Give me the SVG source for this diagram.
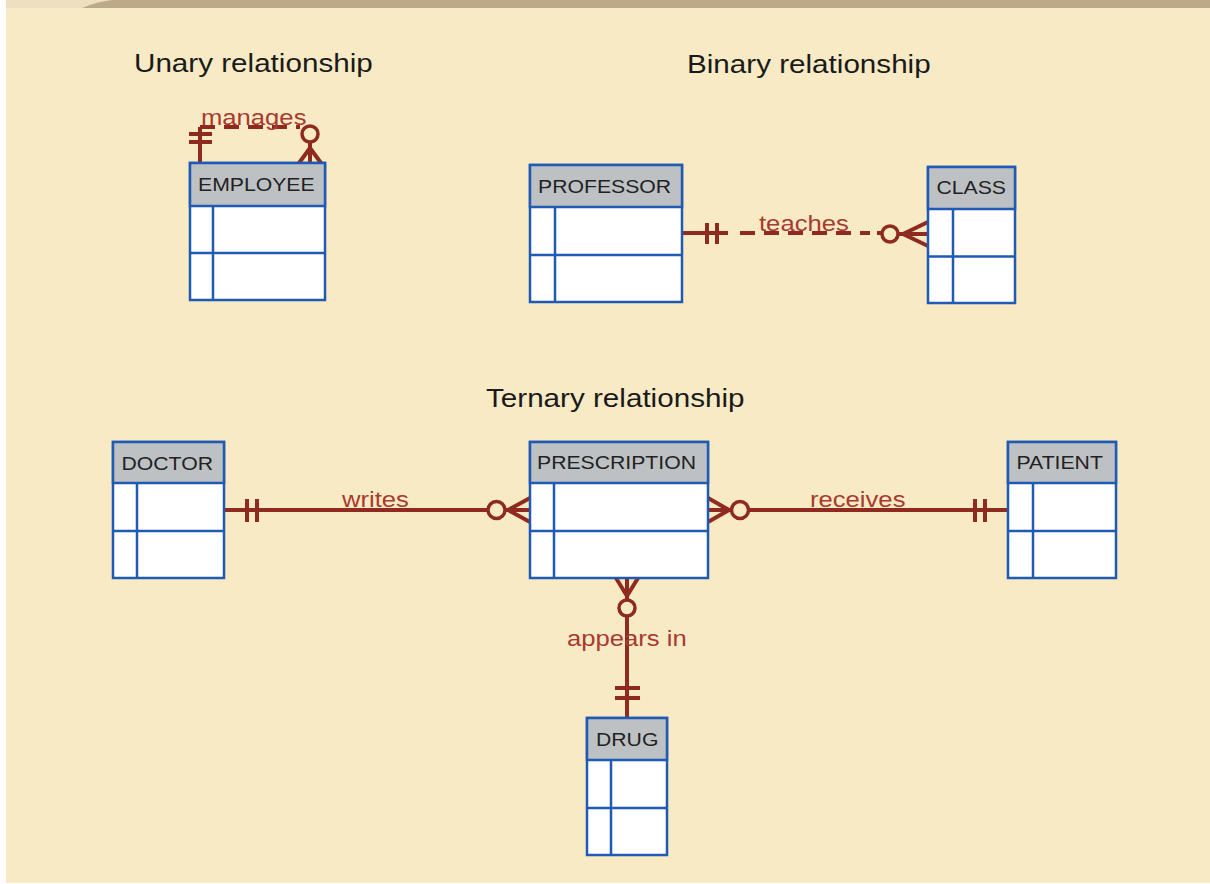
<svg xmlns="http://www.w3.org/2000/svg" width="1210" height="884" viewBox="0 0 1210 884">
<style>
.title{font-family:"Liberation Sans",Arial,sans-serif;font-size:26px;fill:#1a1a1a}
.ename{font-family:"Liberation Sans",Arial,sans-serif;font-size:18.6px;fill:#222}
.lbl{font-family:"Liberation Sans",Arial,sans-serif;font-size:22.5px;fill:#A83A30}
.body{fill:#fff;stroke:#1F5AB5;stroke-width:2.5}
.head{fill:#BDC1C4;stroke:#1F5AB5;stroke-width:2.5}
.grid{stroke:#1F5AB5;stroke-width:2.5;fill:none}
.rel{stroke:#8E2A1F;stroke-width:4;fill:none}
.dash{stroke-dasharray:15 9}
.ring{stroke:#8E2A1F;stroke-width:3.5;fill:#F8EAC5}
</style>
<rect x="0" y="0" width="1210" height="884" fill="#fff"/>
<rect x="6" y="0" width="1204" height="883" fill="#F8EAC5"/>
<rect x="6" y="0" width="1204" height="8" fill="#BBA987"/>
<path d="M6,0 H112 Q96,2 82,8 H6 Z" fill="#EDE0C0"/>

<g id="titles">
<text class="title" transform="translate(134 72) scale(1.14 1)">Unary relationship</text>
<text class="title" transform="translate(687 73) scale(1.14 1)">Binary relationship</text>
<text class="title" transform="translate(486 407) scale(1.14 1)">Ternary relationship</text>
</g>

<g id="connectors">
<g id="c-manages">
<path class="rel" d="M200,163 V127"/>
<path class="rel dash" d="M200,127 H300"/>
<line class="rel" x1="189" y1="134" x2="212" y2="134"/>
<line class="rel" x1="189" y1="142" x2="212" y2="142"/>
<circle class="ring" cx="310" cy="134" r="8"/>
<path class="rel" d="M310,142 V163 M310,148 L299,163 M310,148 L321,163"/>
<text class="lbl" transform="translate(201 125) scale(1.14 1)">manages</text>
</g>
<g id="c-teaches">
<path class="rel" d="M682,233 H728"/>
<path class="rel dash" d="M740,233 H870"/>
<path class="rel" d="M877,233 H882"/>
<line class="rel" x1="707" y1="223" x2="707" y2="244"/>
<line class="rel" x1="717" y1="223" x2="717" y2="244"/>
<circle class="ring" cx="890" cy="234" r="8"/>
<path class="rel" d="M898,234 H928 M903,234 L928,222 M903,234 L928,246"/>
<text class="lbl" transform="translate(759 231) scale(1.14 1)">teaches</text>
</g>
<g id="c-writes">
<path class="rel" d="M224,510 H488"/>
<line class="rel" x1="247" y1="499" x2="247" y2="522"/>
<line class="rel" x1="257" y1="499" x2="257" y2="522"/>
<circle class="ring" cx="496.5" cy="510" r="8.5"/>
<path class="rel" d="M505,510 H530 M508,510 L530,498 M508,510 L530,522"/>
<text class="lbl" transform="translate(342 507) scale(1.14 1)">writes</text>
</g>
<g id="c-receives">
<path class="rel" d="M708,510 H732 M729,510 L708,498 M729,510 L708,522"/>
<circle class="ring" cx="740" cy="510" r="8.5"/>
<path class="rel" d="M748.5,510 H1008"/>
<line class="rel" x1="975" y1="499" x2="975" y2="522"/>
<line class="rel" x1="985" y1="499" x2="985" y2="522"/>
<text class="lbl" transform="translate(810 507) scale(1.14 1)">receives</text>
</g>
<g id="c-appears">
<path class="rel" d="M627,578 V600 M627,596 L616,578 M627,596 L638,578"/>
<circle class="ring" cx="627" cy="608" r="8"/>
<path class="rel" d="M627,616 V718"/>
<line class="rel" x1="615" y1="688" x2="640" y2="688"/>
<line class="rel" x1="615" y1="698" x2="640" y2="698"/>
<text class="lbl" transform="translate(567 646) scale(1.14 1)">appears in</text>
</g>
</g>

<g id="employee">
<rect class="body" x="190" y="163" width="135" height="137"/>
<rect class="head" x="190" y="163" width="135" height="43"/>
<path class="grid" d="M190,253 H325 M213,206 V300"/>
<text class="ename" transform="translate(198 191) scale(1.14 1)">EMPLOYEE</text>
</g>

<g id="professor">
<rect class="body" x="530" y="165" width="152" height="137"/>
<rect class="head" x="530" y="165" width="152" height="42"/>
<path class="grid" d="M530,255 H682 M555,207 V302"/>
<text class="ename" transform="translate(538 193) scale(1.14 1)">PROFESSOR</text>
</g>

<g id="class">
<rect class="body" x="928" y="167" width="87" height="136"/>
<rect class="head" x="928" y="167" width="87" height="42"/>
<path class="grid" d="M928,256.5 H1015 M953,209 V303"/>
<text class="ename" transform="translate(936.5 194) scale(1.14 1)">CLASS</text>
</g>

<g id="doctor">
<rect class="body" x="113" y="442" width="111" height="136"/>
<rect class="head" x="113" y="442" width="111" height="41"/>
<path class="grid" d="M113,531 H224 M137,483 V578"/>
<text class="ename" transform="translate(121.5 469.5) scale(1.14 1)">DOCTOR</text>
</g>

<g id="prescription">
<rect class="body" x="530" y="442" width="178" height="136"/>
<rect class="head" x="530" y="442" width="178" height="41"/>
<path class="grid" d="M530,531 H708 M554,483 V578"/>
<text class="ename" transform="translate(537 468.5) scale(1.14 1)">PRESCRIPTION</text>
</g>

<g id="patient">
<rect class="body" x="1008" y="442" width="108" height="136"/>
<rect class="head" x="1008" y="442" width="108" height="41"/>
<path class="grid" d="M1008,531 H1116 M1033,483 V578"/>
<text class="ename" transform="translate(1016.5 469) scale(1.14 1)">PATIENT</text>
</g>

<g id="drug">
<rect class="body" x="587" y="718" width="80" height="137"/>
<rect class="head" x="587" y="718" width="80" height="42"/>
<path class="grid" d="M587,808 H667 M611,760 V855"/>
<text class="ename" transform="translate(596 745.5) scale(1.14 1)">DRUG</text>
</g>
</svg>
